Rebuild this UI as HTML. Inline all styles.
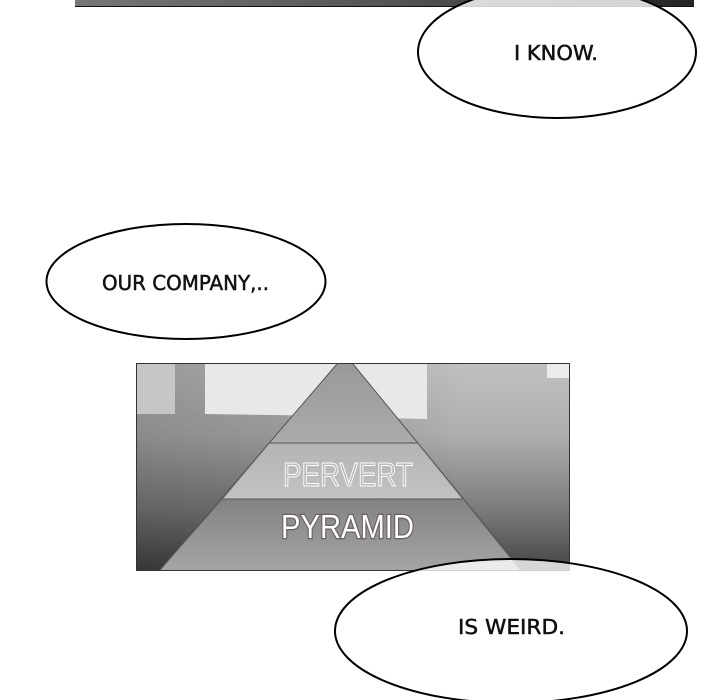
<!DOCTYPE html>
<html><head><meta charset="utf-8"><style>
html,body{margin:0;padding:0;background:#fff;width:720px;height:700px;overflow:hidden}
svg{display:block}
.c{font-family:"DejaVu Sans",sans-serif;fill:#111;font-size:20px;stroke:#111;stroke-width:.5}
.p{font-family:"Liberation Sans",sans-serif;font-size:33px}
</style></head><body>
<svg width="720" height="700" viewBox="0 0 720 700" xmlns="http://www.w3.org/2000/svg">
<defs>
<linearGradient id="top" x1="0" x2="1" y1="0" y2="0"><stop offset="0" stop-color="#777"/><stop offset=".5" stop-color="#555"/><stop offset="1" stop-color="#252525"/></linearGradient>
<linearGradient id="bg" x1="0" x2="0" y1="0" y2="1"><stop offset="0" stop-color="#c0c0c0"/><stop offset=".35" stop-color="#aeaeae"/><stop offset=".7" stop-color="#7c7c7c"/><stop offset="1" stop-color="#444"/></linearGradient>
<linearGradient id="side" x1="0" x2="1" y1="0" y2="0"><stop offset="0" stop-color="#000" stop-opacity=".2"/><stop offset=".5" stop-color="#000" stop-opacity=".1"/><stop offset=".75" stop-color="#000" stop-opacity="0"/></linearGradient>
<linearGradient id="a" x1="0" x2="0" y1="0" y2="1"><stop offset="0" stop-color="#999"/><stop offset="1" stop-color="#ababab"/></linearGradient>
<linearGradient id="b" x1="0" x2="0" y1="0" y2="1"><stop offset="0" stop-color="#b4b4b4"/><stop offset="1" stop-color="#c2c2c2"/></linearGradient>
<linearGradient id="d" x1="0" x2="0" y1="0" y2="1"><stop offset="0" stop-color="#828282"/><stop offset="1" stop-color="#a5a5a5"/></linearGradient>
</defs>
<rect x="75" y="0" width="619" height="6" fill="url(#top)"/>
<rect x="75" y="6" width="619" height="1" fill="#111"/>
<ellipse cx="557" cy="52" rx="139" ry="66" fill="#fff" fill-opacity=".8" stroke="#000" stroke-width="2"/>
<text class="c" x="514" y="60" textLength="84" lengthAdjust="spacingAndGlyphs">I KNOW.</text>

<ellipse cx="186" cy="281.5" rx="139.5" ry="57.5" fill="#fff" stroke="#000" stroke-width="2"/>
<text class="c" x="102" y="290" textLength="167" lengthAdjust="spacingAndGlyphs">OUR COMPANY,..</text>

<rect x="136.5" y="363.5" width="433" height="207" fill="url(#bg)" stroke="#333" stroke-width="1"/>
<rect x="137" y="364" width="432" height="206" fill="url(#side)"/>
<rect x="137" y="364" width="38" height="50" fill="#c6c6c6"/>
<path d="M205 364H340V416L205 414Z" fill="#e8e8e8"/>
<path d="M350 364H427V419L380 418Z" fill="#e8e8e8"/>
<rect x="547" y="364" width="22" height="14" fill="#ececec"/>
<path d="M337 364H353L417 443H270Z" fill="url(#a)"/>
<path d="M270 443H417L462 499H223Z" fill="url(#b)"/>
<path d="M223 499H462L520 570H160Z" fill="url(#d)"/>
<path d="M337 364L160 570M353 364L512 558M270 443H417M223 499H462" stroke="#555" stroke-width="1" fill="none"/>
<text class="p" x="283" y="486" textLength="130" lengthAdjust="spacingAndGlyphs" fill="#bbb" stroke="#fff" stroke-width="1">PERVERT</text>
<text class="p" x="281" y="538" textLength="133" lengthAdjust="spacingAndGlyphs" fill="#fff" stroke="#6b6060" stroke-width="2.5" paint-order="stroke">PYRAMID</text>

<ellipse cx="511" cy="631" rx="176" ry="72" fill="#fff" fill-opacity=".78" stroke="#000" stroke-width="2"/>
<text class="c" x="458" y="634" textLength="107" lengthAdjust="spacingAndGlyphs">IS WEIRD.</text>
</svg>
</body></html>
